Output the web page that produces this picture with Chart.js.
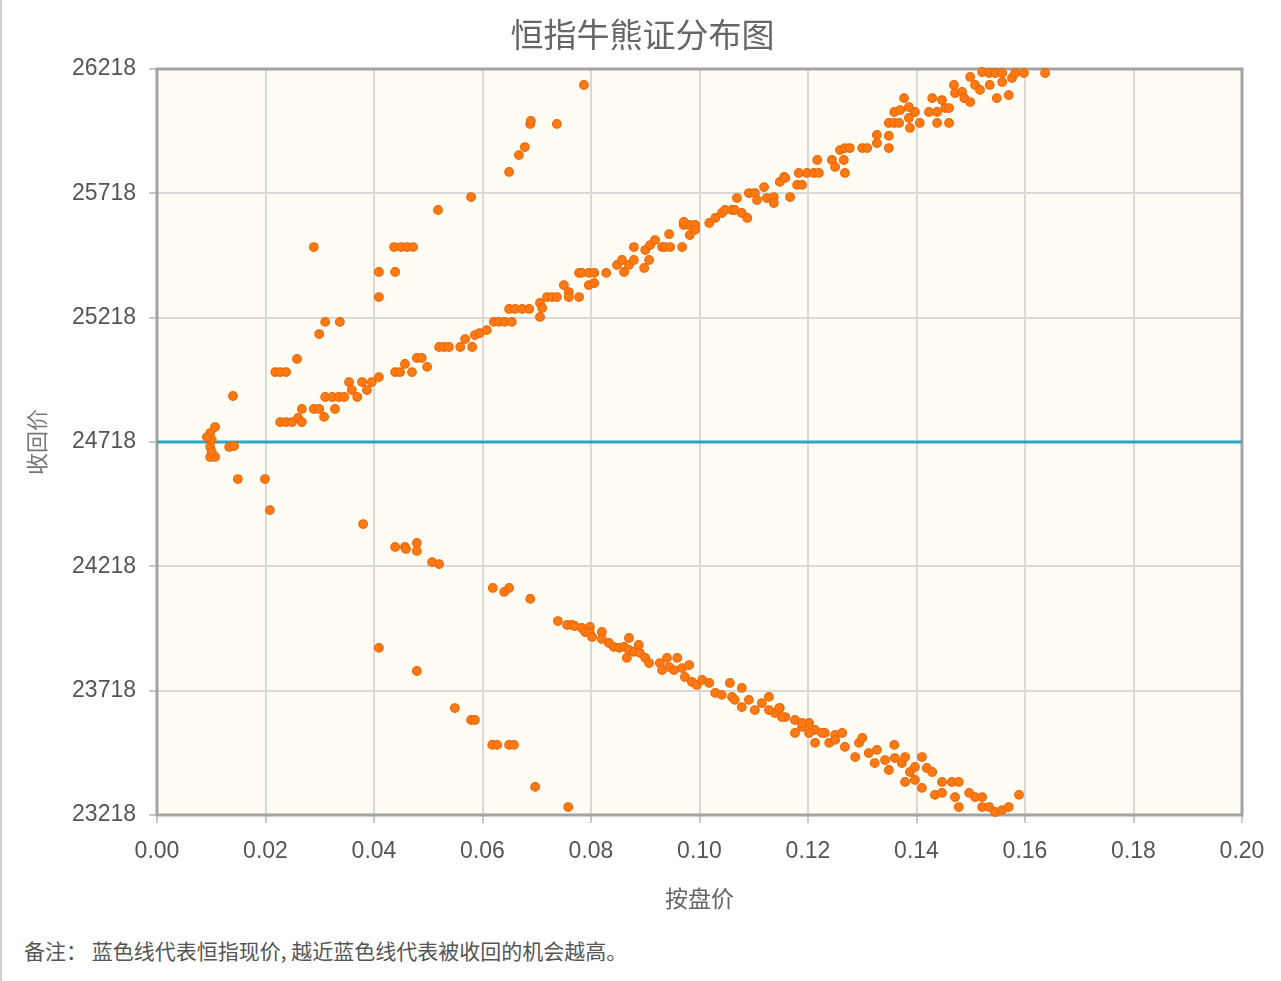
<!DOCTYPE html>
<html>
<head>
<meta charset="utf-8">
<script src="https://cdn.jsdelivr.net/npm/chart.js@4.4.1/dist/chart.umd.min.js"></script>
<style>
  html, body { margin: 0; padding: 0; background: #ffffff; overflow: hidden; }
  body { width: 1281px; height: 981px; position: relative; border-left: 2px solid #d0d0d0; box-sizing: border-box; }
  #wrap { position: absolute; left: 0; top: 0; width: 1281px; height: 925px; }
  #note { position: absolute; left: 22px; top: 935px; font-family: "Noto Sans CJK SC", "Liberation Sans", sans-serif; font-size: 21px; color: #555; white-space: pre; }
</style>
</head>
<body>
<div id="wrap"><canvas id="c" width="1281" height="925"></canvas></div>
<div id="note">备注： 蓝色线代表恒指现价, 越近蓝色线代表被收回的机会越高。</div>
<script>
// ---- data (x: 按盘价, y: 收回价) ----
const chartTitle = "恒指牛熊证分布图";
const xAxisTitle = "按盘价";
const yAxisTitle = "收回价";
const spotIndex = 24718;            // 恒指现价 (blue line)
const xTickValues = [0, 0.02, 0.04, 0.06, 0.08, 0.10, 0.12, 0.14, 0.16, 0.18, 0.20];
const yTickValues = [23218, 23718, 24218, 24718, 25218, 25718, 26218];

// 牛证 (call price above spot)
const bullPoints = [
  [0.0098,24754],[0.0101,24726],[0.0107,24778],[0.0092,24738],[0.0140,24903],
  [0.0218,24999],[0.0227,24999],[0.0238,24999],[0.0258,25052],[0.0299,25152],[0.0310,25201],[0.0337,25201],
  [0.0289,25502],[0.0409,25301],[0.0409,25402],[0.0439,25402],[0.0437,25502],[0.0450,25502],[0.0461,25502],
  [0.0472,25502],[0.0518,25651],[0.0579,25703],[0.0649,25804],[0.0667,25872],[0.0678,25904],[0.0688,25997],
  [0.0689,26009],[0.0737,25997],[0.0787,26154],
  [0.0227,24798],[0.0238,24798],[0.0249,24798],[0.0260,24815],[0.0267,24851],[0.0267,24798],[0.0289,24851],
  [0.0299,24851],[0.0308,24819],[0.0328,24851],[0.0310,24899],[0.0323,24899],[0.0335,24899],[0.0345,24899],
  [0.0354,24959],[0.0359,24927],[0.0369,24899],[0.0378,24959],[0.0387,24927],[0.0396,24959],[0.0409,24979],
  [0.0439,24999],[0.0448,24999],[0.0457,25032],[0.0470,24999],[0.0479,25056],[0.0488,25056],[0.0498,25020],
  [0.0520,25100],[0.0529,25100],[0.0538,25100],[0.0559,25100],[0.0568,25132],[0.0581,25100],[0.0586,25148],
  [0.0595,25156],[0.0608,25168],[0.0621,25201],[0.0630,25201],[0.0641,25201],[0.0654,25201],[0.0649,25253],
  [0.0660,25253],[0.0673,25253],[0.0686,25253],[0.0706,25277],[0.0710,25257],[0.0706,25221],[0.0719,25301],
  [0.0728,25301],[0.0737,25301],[0.0750,25349],[0.0759,25321],[0.0759,25301],[0.0778,25301],[0.0778,25398],
  [0.0783,25398],[0.0796,25398],[0.0806,25398],[0.0796,25349],[0.0806,25357],[0.0828,25398],[0.0848,25430],
  [0.0857,25450],[0.0861,25402],[0.0870,25430],[0.0879,25450],[0.0879,25502],[0.0898,25418],[0.0900,25490],
  [0.0907,25450],[0.0909,25510],[0.0918,25530],[0.0931,25502],[0.0936,25502],[0.0946,25502],[0.0944,25554],
  [0.0968,25502],[0.0971,25591],[0.0981,25591],[0.0992,25591],[0.0971,25603],[0.0982,25550],[0.0992,25571],
  [0.1018,25599],[0.1029,25619],[0.1041,25639],[0.1047,25651],[0.1060,25651],[0.1069,25699],[0.1065,25651],
  [0.1078,25639],[0.1088,25619],[0.1091,25719],[0.1102,25719],[0.1106,25691],[0.1119,25743],[0.1124,25699],
  [0.1137,25703],[0.1137,25679],[0.1148,25764],[0.1156,25784],[0.1167,25703],[0.1180,25752],[0.1189,25752],
  [0.1183,25800],[0.1198,25800],[0.1211,25800],[0.1220,25800],[0.1158,25780],[0.1217,25852],[0.1244,25852],
  [0.1250,25824],[0.1266,25852],[0.1259,25892],[0.1268,25900],[0.1277,25900],[0.1268,25800],[0.1300,25900],
  [0.1309,25900],[0.1327,25953],[0.1327,25920],[0.1349,25949],[0.1349,25900],[0.1349,26001],[0.1359,26001],
  [0.1368,26001],[0.1359,26045],[0.1370,26053],[0.1377,26101],[0.1386,26065],[0.1386,26021],[0.1388,25981],
  [0.1397,26045],[0.1406,26001],[0.1423,26045],[0.1429,26101],[0.1438,26045],[0.1438,26001],[0.1447,26093],
  [0.1453,26061],[0.1460,26001],[0.1460,26061],[0.1469,26154],[0.1471,26121],[0.1484,26126],[0.1488,26101],
  [0.1499,26085],[0.1499,26186],[0.1508,26154],[0.1517,26134],[0.1521,26206],[0.1534,26202],[0.1535,26154],
  [0.1545,26202],[0.1558,26202],[0.1558,26166],[0.1548,26101],[0.1570,26113],[0.1576,26182],[0.1582,26202],
  [0.1598,26202],[0.1637,26202]
];

// 熊证 (call price below spot)
const bearPoints = [
  [0.0098,24698],[0.0098,24658],[0.0107,24658],[0.0101,24678],[0.0133,24698],[0.0142,24702],
  [0.0149,24569],[0.0199,24569],[0.0208,24444],
  [0.0380,24388],[0.0409,23890],[0.0439,24296],[0.0457,24296],[0.0459,24288],[0.0479,24312],[0.0479,24280],
  [0.0479,23797],[0.0507,24235],[0.0520,24227],[0.0549,23648],[0.0579,23600],[0.0586,23600],[0.0618,23500],
  [0.0627,23500],[0.0649,23500],[0.0658,23500],[0.0697,23331],[0.0758,23250],[0.0619,24131],[0.0640,24115],
  [0.0649,24131],[0.0688,24087],[0.0739,23998],
  [0.0756,23982],[0.0765,23982],[0.0770,23978],[0.0783,23970],[0.0789,23954],[0.0798,23974],[0.0798,23950],
  [0.0802,23934],[0.0820,23954],[0.0820,23926],[0.0833,23910],[0.0842,23894],[0.0852,23890],[0.0861,23894],
  [0.0870,23930],[0.0870,23882],[0.0866,23850],[0.0879,23874],[0.0888,23902],[0.0890,23870],[0.0900,23850],
  [0.0907,23829],[0.0927,23829],[0.0931,23801],[0.0940,23850],[0.0944,23813],[0.0953,23801],[0.0959,23850],
  [0.0968,23809],[0.0973,23773],[0.0981,23821],[0.0986,23753],[0.0995,23741],[0.1005,23761],[0.1018,23749],
  [0.1029,23709],[0.1041,23701],[0.1056,23749],[0.1060,23693],[0.1065,23681],[0.1078,23729],[0.1078,23652],
  [0.1091,23681],[0.1102,23640],[0.1115,23668],[0.1128,23693],[0.1139,23628],[0.1148,23648],[0.1158,23612],
  [0.1176,23600],[0.1189,23572],[0.1202,23588],[0.1213,23560],[0.1231,23548],[0.1250,23540],[0.1128,23640],
  [0.1147,23648],[0.1152,23612],[0.1176,23548],[0.1189,23588],[0.1202,23548],[0.1213,23508],[0.1226,23548],
  [0.1239,23508],[0.1250,23520],[0.1263,23548],[0.1268,23492],[0.1287,23451],[0.1294,23508],[0.1300,23528],
  [0.1312,23467],[0.1327,23480],[0.1323,23427],[0.1342,23439],[0.1349,23399],[0.1359,23500],[0.1360,23447],
  [0.1373,23427],[0.1379,23451],[0.1379,23351],[0.1388,23391],[0.1397,23411],[0.1397,23359],[0.1410,23451],
  [0.1410,23327],[0.1419,23407],[0.1429,23391],[0.1434,23299],[0.1447,23351],[0.1447,23307],[0.1465,23351],
  [0.1478,23351],[0.1471,23290],[0.1478,23250],[0.1497,23307],[0.1508,23290],[0.1521,23290],[0.1521,23250],
  [0.1534,23250],[0.1545,23230],[0.1558,23238],[0.1570,23250],[0.1589,23299]
];

// ---- chart ----
const toXY = arr => arr.map(p => ({ x: p[0], y: p[1] }));
const sansFont = '"Liberation Sans", "Noto Sans CJK SC", Arial, sans-serif';
const cjkFont = '"Noto Sans CJK SC", "Liberation Sans", sans-serif';
const pointStyle = {
  backgroundColor: '#ff7a14',
  borderColor: '#ec6806',
  borderWidth: 1.2,
  pointRadius: 4.3,
  pointHoverRadius: 4.3,
  showLine: false,
  clip: false,
  order: 1
};

const areaPlugin = {
  id: 'areaPlugin',
  beforeDraw(chart) {
    const { ctx, chartArea: a } = chart;
    ctx.save();
    ctx.fillStyle = '#fffcf4';
    ctx.fillRect(a.left, a.top, a.right - a.left, a.bottom - a.top);
    ctx.restore();
  },
  beforeDatasetsDraw(chart) {
    const { ctx, chartArea: a } = chart;
    ctx.save();
    ctx.strokeStyle = '#a3a3a3';
    ctx.lineWidth = 3;
    ctx.strokeRect(a.left, a.top, a.right - a.left, a.bottom - a.top);
    ctx.restore();
  }
};

new Chart(document.getElementById('c'), {
  type: 'scatter',
  data: {
    datasets: [
      Object.assign({ label: '牛证', data: toXY(bullPoints) }, pointStyle),
      Object.assign({ label: '熊证', data: toXY(bearPoints) }, pointStyle),
      {
        type: 'line',
        label: '恒指现价',
        data: [{ x: xTickValues[0], y: spotIndex }, { x: xTickValues[xTickValues.length - 1], y: spotIndex }],
        borderColor: '#2ca6c3',
        borderWidth: 3,
        pointRadius: 0,
        fill: false,
        order: 2
      }
    ]
  },
  options: {
    responsive: false,
    animation: false,
    layout: { padding: { left: 0, right: 0, top: 0, bottom: 0 } },
    plugins: {
      legend: { display: false },
      tooltip: { enabled: false },
      title: {
        display: true,
        text: chartTitle,
        color: '#666666',
        font: { family: cjkFont, size: 33, weight: 'normal', lineHeight: 1.2 },
        padding: { top: 15, bottom: 14.4 }
      }
    },
    scales: {
      x: {
        type: 'linear',
        min: 0,
        max: 0.2,
        afterBuildTicks: s => { s.ticks = xTickValues.map(v => ({ value: v })); },
        afterFit: s => { s.height = 110; },
        ticks: {
          callback: v => Number(v).toFixed(2),
          color: '#555555',
          font: { family: sansFont, size: 23 },
          padding: 15,
          maxRotation: 0,
          autoSkip: false
        },
        grid: { color: '#d9d9d9', lineWidth: 2, tickLength: 8, tickColor: '#c8c8c8' },
        border: { display: false },
        title: {
          display: true,
          text: xAxisTitle,
          color: '#666666',
          font: { family: cjkFont, size: 23 },
          padding: { top: 0, bottom: 13 }
        }
      },
      y: {
        type: 'linear',
        min: yTickValues[0],
        max: yTickValues[yTickValues.length - 1],
        afterBuildTicks: s => { s.ticks = yTickValues.map(v => ({ value: v })); },
        afterFit: s => { s.width = 155; },
        ticks: {
          callback: v => String(v),
          color: '#555555',
          font: { family: sansFont, size: 23 },
          padding: 13,
          autoSkip: false
        },
        grid: { color: '#d9d9d9', lineWidth: 2, tickLength: 8, tickColor: '#c8c8c8' },
        border: { display: false },
        title: {
          display: true,
          text: yAxisTitle,
          color: '#777777',
          font: { family: cjkFont, size: 22 },
          padding: { top: 21, bottom: 0 }
        }
      },
      yRightSpace: {
        type: 'linear',
        position: 'right',
        display: true,
        min: yTickValues[0],
        max: yTickValues[yTickValues.length - 1],
        afterFit: s => { s.width = 41; },
        ticks: { display: false },
        grid: { display: false, drawTicks: false },
        border: { display: false },
        title: { display: false }
      }
    }
  },
  plugins: [areaPlugin]
});
</script>
</body>
</html>
